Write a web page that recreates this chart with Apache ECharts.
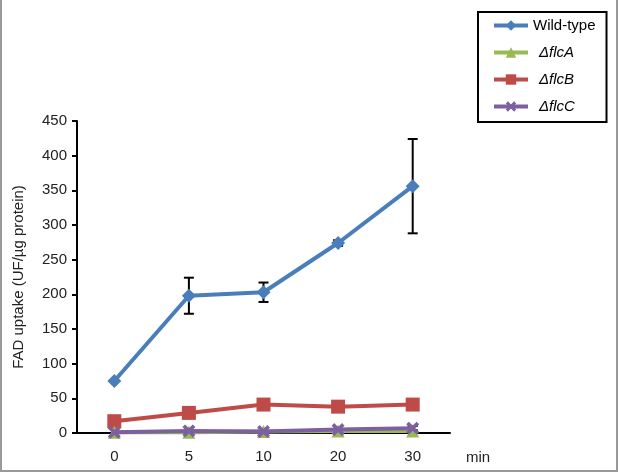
<!DOCTYPE html>
<html><head><meta charset="utf-8">
<script src="https://cdn.jsdelivr.net/npm/echarts@6/dist/echarts.min.js"></script>
<style>html,body{margin:0;padding:0;background:#fff}#c{width:620px;height:474px}</style>
</head><body><div id="c"></div>
<script>
var categories = ['0', '5', '10', '20', '30'];
var wildType = [75, 198, 203, 274, 356];
var wildTypeErr = [0, 26, 14, 4, 68];
var flcA = [1, 1, 2, 3, 3];
var flcB = [17, 29, 41, 38, 41];
var flcBErr = [0, 0, 6, 0, 0];
var flcC = [1, 3, 2, 5, 7];
var flcCErr = [0, 0, 0, 0, 3];
var yTicks = {min: 0, max: 450, interval: 50};

var chart = echarts.init(document.getElementById('c'), null, {renderer: 'canvas'});
var font = 'Liberation Sans, Arial, sans-serif';

function errSeries(vals, errs) {
  return {
    type: 'custom', z: 1, silent: true,
    data: vals.map(function (v, i) { return [i, v, errs[i]]; }),
    renderItem: function (params, api) {
      var i = api.value(0), v = api.value(1), e = api.value(2);
      if (!e) return null;
      var top = api.coord([i, v + e]), bot = api.coord([i, v - e]);
      var w = 5;
      var st = {stroke: '#000', lineWidth: 2};
      return {type: 'group', children: [
        {type: 'line', shape: {x1: top[0], y1: top[1], x2: bot[0], y2: bot[1]}, style: st},
        {type: 'line', shape: {x1: top[0] - w, y1: top[1], x2: top[0] + w, y2: top[1]}, style: st},
        {type: 'line', shape: {x1: bot[0] - w, y1: bot[1], x2: bot[0] + w, y2: bot[1]}, style: st}
      ]};
    }
  };
}

var xPath = 'path://M0,2 L2,0 L5,3 L8,0 L10,2 L7,5 L10,8 L8,10 L5,7 L2,10 L0,8 L3,5 Z';

chart.setOption({
  animation: false,
  textStyle: {fontFamily: font},
  grid: {left: 77, right: 170, top: 121, bottom: 41, containLabel: false},
  legend: {
    orient: 'vertical', left: 478, top: 12,
    padding: [6, 11, 8, 14],
    borderColor: '#000', borderWidth: 2,
    itemWidth: 34, itemHeight: 13, itemGap: 12,
    lineStyle: {width: 4},
    data: ['Wild-type', 'ΔflcA', 'ΔflcB', 'ΔflcC'],
    formatter: function (n) { return n === 'Wild-type' ? n : '{i|' + n + '}'; },
    textStyle: {fontSize: 15, color: '#000', fontFamily: font,
      rich: {i: {fontStyle: 'italic', fontSize: 15, color: '#000', fontFamily: font, padding: [0, 0, 0, 6]}}}
  },
  xAxis: {
    type: 'category', data: categories, boundaryGap: true,
    name: 'min', nameLocation: 'end', nameGap: 16,
    nameTextStyle: {fontSize: 15, color: '#222', verticalAlign: 'top', padding: [17, 0, 0, 0]},
    axisLine: {lineStyle: {color: '#000', width: 2}},
    axisTick: {inside: false, length: 6, lineStyle: {color: '#000', width: 2}},
    axisLabel: {fontSize: 15, color: '#222', margin: 16},
    splitLine: {show: false}
  },
  yAxis: {
    type: 'value', min: yTicks.min, max: yTicks.max, interval: yTicks.interval,
    name: 'FAD uptake (UF/µg protein)', nameLocation: 'middle', nameGap: 51,
    nameTextStyle: {fontSize: 15, color: '#222'},
    axisLine: {show: true, lineStyle: {color: '#000', width: 2}},
    axisTick: {show: true, inside: false, length: 5, lineStyle: {color: '#000', width: 2}},
    axisLabel: {fontSize: 15, color: '#222', margin: 10},
    splitLine: {show: false}
  },
  series: [
    errSeries(wildType, wildTypeErr),
    errSeries(flcB, flcBErr),
    errSeries(flcC, flcCErr),
    {name: 'ΔflcB', type: 'line', data: flcB, z: 3, symbol: 'rect', symbolSize: 14,
      color: '#be4b48', lineStyle: {width: 4, color: '#be4b48'}, itemStyle: {color: '#be4b48'}},
    {name: 'ΔflcA', type: 'line', data: flcA, z: 3, symbol: 'triangle', symbolSize: 13,
      color: '#98b954', lineStyle: {width: 4, color: '#98b954'}, itemStyle: {color: '#98b954'}},
    {name: 'ΔflcC', type: 'line', data: flcC, z: 4, symbol: xPath, symbolSize: 13,
      color: '#7d60a0', lineStyle: {width: 4, color: '#7d60a0'}, itemStyle: {color: '#7d60a0'}},
    {name: 'Wild-type', type: 'line', data: wildType, z: 5, symbol: 'diamond', symbolSize: 14,
      color: '#4a7ebb', lineStyle: {width: 4, color: '#4a7ebb'}, itemStyle: {color: '#4a7ebb'}}
  ],
  graphic: [{
    type: 'polyline', silent: true,
    shape: {points: [[1, 0], [1, 471], [617, 471], [617, 0]]},
    style: {stroke: '#999', lineWidth: 2, fill: null}
  }]
});
</script></body></html>
